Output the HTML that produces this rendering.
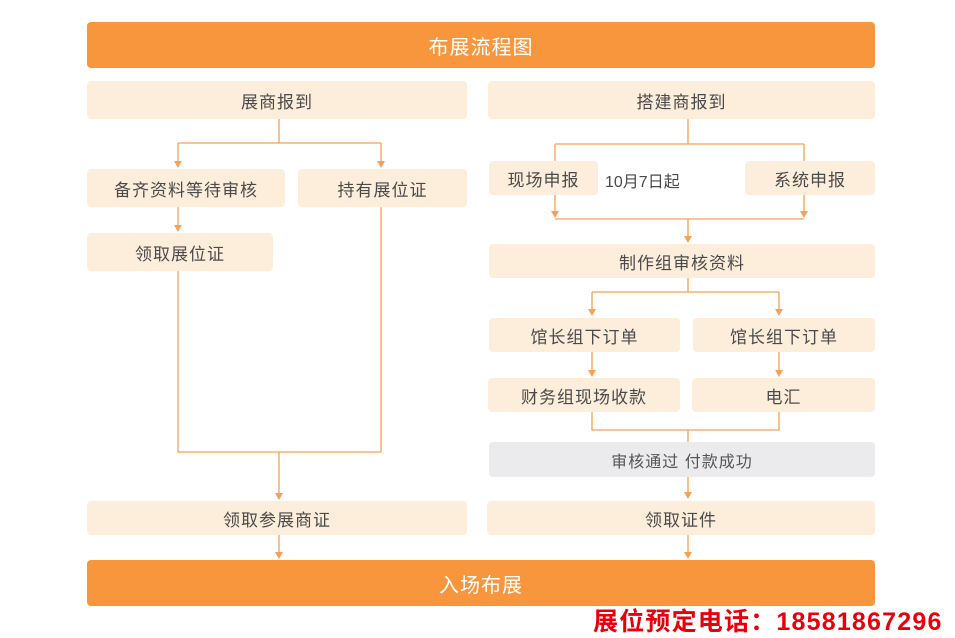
<!DOCTYPE html>
<html><head><meta charset="utf-8"><style>
body{margin:0;width:955px;height:635px;background:#fff;position:relative;overflow:hidden;font-family:"Liberation Sans","Noto Sans CJK SC",sans-serif;}
.b{position:absolute;background:#FDEEDC;border-radius:4px;color:#4a4a4a;font-size:17px;display:flex;align-items:center;justify-content:center;letter-spacing:1px;}
.o{background:#F7963D;color:#fff;font-size:20px;}
.g{background:#EBEBED;color:#555;font-size:16px;}
svg{position:absolute;left:0;top:0;}
</style></head><body>
<svg width="955" height="635" stroke="#F5A254" stroke-width="1.3" fill="none">
<path d="M279 119V143M178 143H381M178 143V162M381 143V162"/>
<path d="M178 207V226M178 271V452M381 207V452M178 452H381M279 452V494M279 535V553"/>
<path d="M688 119V144M555 144H804M555 144V161M804 144V161"/>
<path d="M555 195V212M804 195V212M555 219H804M688 219V237"/>
<path d="M688 278V292M592 292H779M592 292V310M779 292V310"/>
<path d="M592 352V371M779 352V371M592 412V430H779V412M688 430V442M688 477V493M688 535V553"/>
<g fill="#F5A254" stroke="none">
<path d="M174 161L182 161L178 168Z"/><path d="M377 161L385 161L381 168Z"/>
<path d="M174 225L182 225L178 232Z"/><path d="M275 493L283 493L279 500Z"/>
<path d="M275 552L283 552L279 559Z"/>
<path d="M551 211L559 211L555 218Z"/><path d="M800 211L808 211L804 218Z"/>
<path d="M684 236L692 236L688 243Z"/>
<path d="M588 309L596 309L592 316Z"/><path d="M775 309L783 309L779 316Z"/>
<path d="M588 370L596 370L592 377Z"/><path d="M775 370L783 370L779 377Z"/>
<path d="M684 492L692 492L688 499Z"/><path d="M684 552L692 552L688 559Z"/>
</g></svg>
<div class="b o" style="left:87px;top:22px;width:788px;height:46px">布展流程图</div>
<div class="b" style="left:87px;top:81px;width:380px;height:38px">展商报到</div>
<div class="b" style="left:488px;top:81px;width:387px;height:38px">搭建商报到</div>
<div class="b" style="left:87px;top:169px;width:198px;height:38px">备齐资料等待审核</div>
<div class="b" style="left:298px;top:169px;width:169px;height:38px">持有展位证</div>
<div class="b" style="left:87px;top:233px;width:186px;height:38px">领取展位证</div>
<div class="b" style="left:87px;top:501px;width:380px;height:34px">领取参展商证</div>
<div class="b" style="left:489px;top:161px;width:109px;height:34px">现场申报</div>
<div style="position:absolute;left:605px;top:168px;font-size:16px;color:#4a4a4a">10月7日起</div>
<div class="b" style="left:745px;top:161px;width:130px;height:34px">系统申报</div>
<div class="b" style="left:489px;top:244px;width:386px;height:34px">制作组审核资料</div>
<div class="b" style="left:489px;top:318px;width:191px;height:34px">馆长组下订单</div>
<div class="b" style="left:693px;top:318px;width:182px;height:34px">馆长组下订单</div>
<div class="b" style="left:488px;top:378px;width:192px;height:34px">财务组现场收款</div>
<div class="b" style="left:692px;top:378px;width:183px;height:34px">电汇</div>
<div class="b g" style="left:489px;top:442px;width:386px;height:35px">审核通过 付款成功</div>
<div class="b" style="left:487px;top:501px;width:388px;height:34px">领取证件</div>
<div class="b o" style="left:87px;top:560px;width:788px;height:46px">入场布展</div>
<div style="position:absolute;left:593px;top:602px;font-size:25px;font-weight:bold;color:#E8000B;white-space:nowrap;letter-spacing:1.2px;">展位预定电话：18581867296</div>
</body></html>
